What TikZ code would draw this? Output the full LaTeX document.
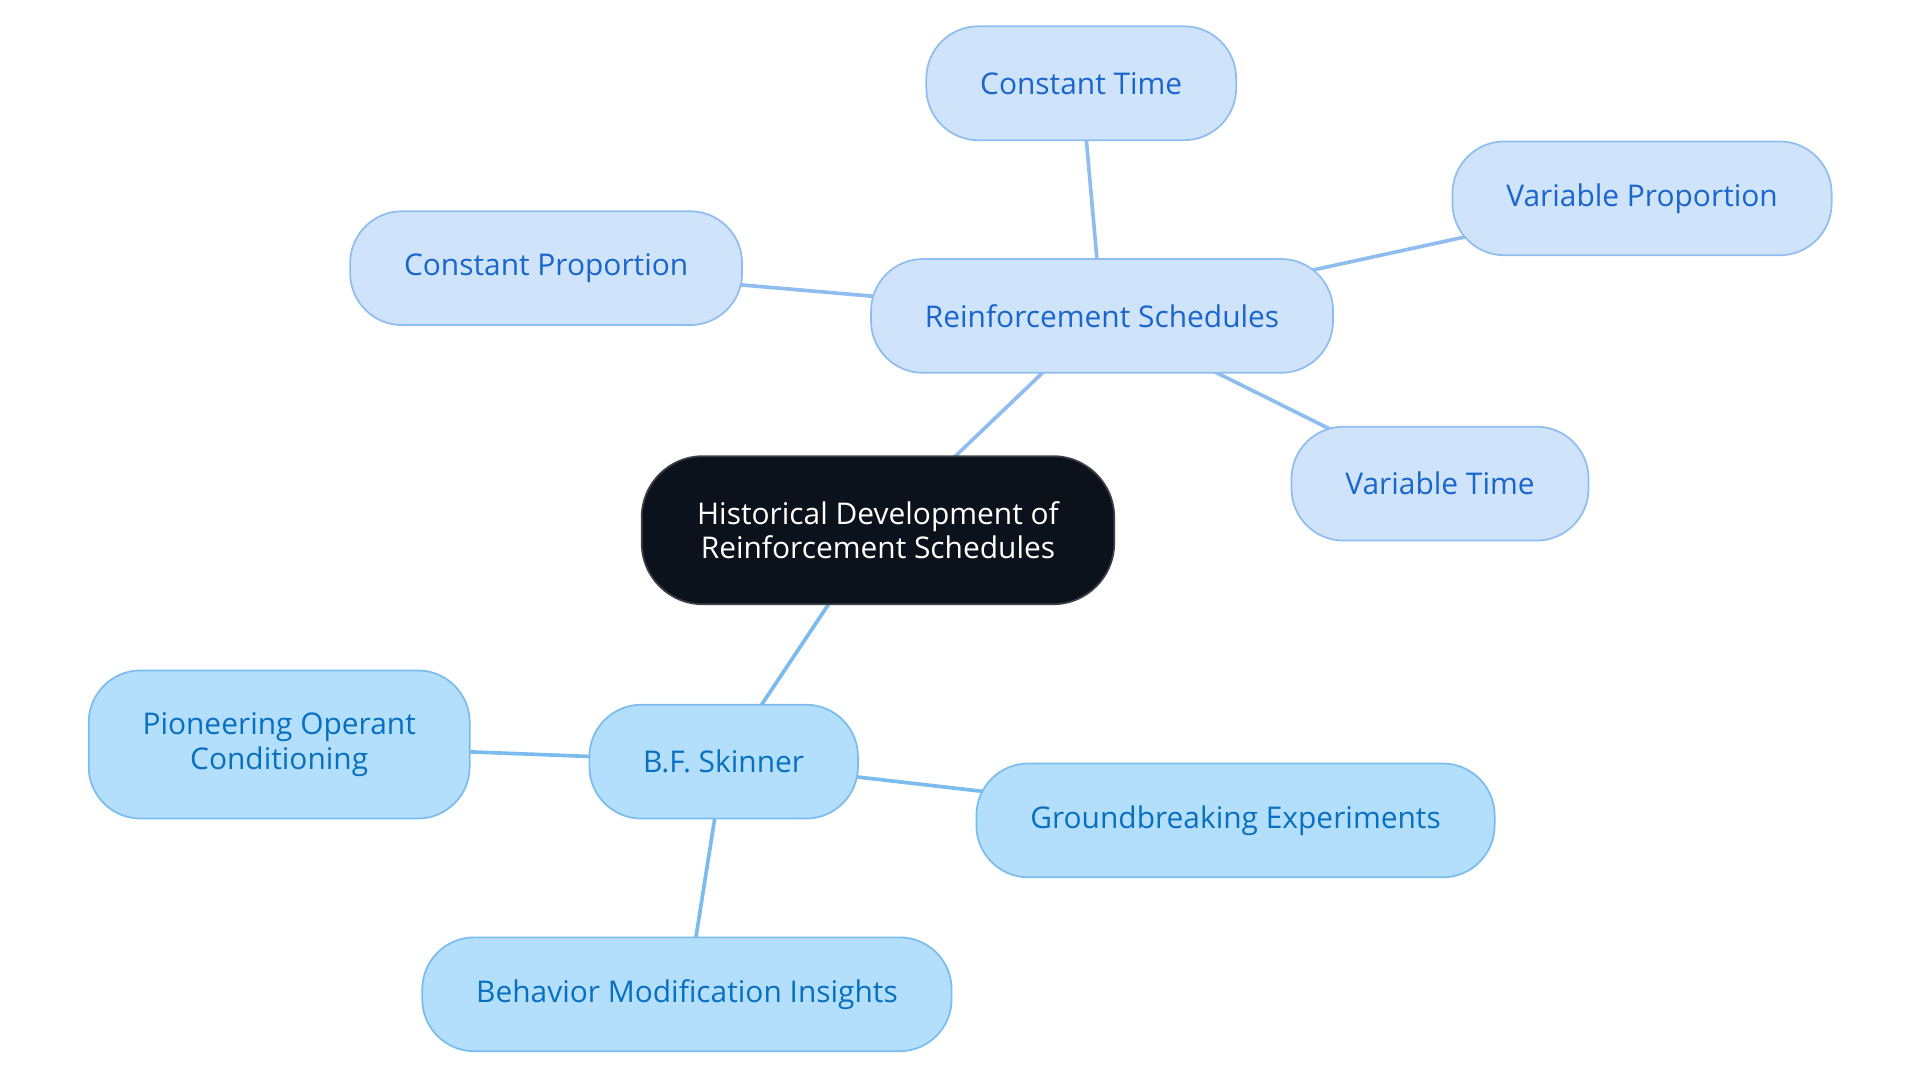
\documentclass[tikz,border=0pt]{standalone}
\usepackage{fontspec}
\setmainfont{Open Sans}
\usetikzlibrary{positioning,backgrounds}
\definecolor{histfill}{HTML}{0C121C}
\definecolor{histdraw}{HTML}{3C4047}
\definecolor{rsfill}{HTML}{CFE3FB}
\definecolor{rsdraw}{HTML}{90BDF0}
\definecolor{rstext}{HTML}{1A66CC}
\definecolor{bffill}{HTML}{B3DFFD}
\definecolor{bfdraw}{HTML}{7BBCEE}
\definecolor{bftext}{HTML}{0870C0}

\begin{document}
\begin{tikzpicture}[x=0.02cm,y=-0.02cm,
    every node/.style={font=\fontsize{13.9}{16.2}\selectfont,align=center},
    hist/.style={rectangle,rounded corners=1cm,fill=histfill,draw=histdraw,
      line width=0.8pt,text=white,minimum width=7.72cm,minimum height=2.42cm},
    rsnode/.style={rectangle,rounded corners=0.85cm,fill=rsfill,draw=rsdraw,
      line width=0.8pt,text=rstext,inner xsep=0.88cm,minimum height=1.86cm},
    bfnode/.style={rectangle,rounded corners=0.85cm,fill=bffill,draw=bfdraw,
      line width=0.8pt,text=bftext,inner xsep=0.88cm,minimum height=1.86cm},
    rsline/.style={draw=rsdraw,line width=1.7pt},
    bfline/.style={draw=bfdraw,line width=1.7pt}]
    \useasboundingbox (0,0) rectangle (1568,884.4);
    \node[hist] (H) at (717,433) {Historical Development of\\Reinforcement Schedules};
    \node[rsnode] (RS) at (900,258) {Reinforcement Schedules};
    \node[rsnode] (CT) at (883,68) {Constant Time};
    \node[rsnode] (VP) at (1341,162) {Variable Proportion};
    \node[rsnode] (CP) at (446,219) {Constant Proportion};
    \node[rsnode] (VT) at (1176,395) {Variable Time};
    \node[bfnode] (BF) at (591,622) {B.F. Skinner};
    \node[bfnode,minimum height=2.42cm] (PO) at (228,608) {Pioneering Operant\\Conditioning};
    \node[bfnode] (GE) at (1009,670) {Groundbreaking Experiments};
    \node[bfnode] (BM) at (561,812) {Behavior Modification Insights};
    \begin{scope}[on background layer]
    \path[rsline] (H.center) -- (RS.center)
    (RS.center) -- (CT.center)
    (RS.center) -- (VP.center)
    (RS.center) -- (CP.center)
    (RS.center) -- (VT.center);
    \path[bfline] (H.center) -- (BF.center)
    (BF.center) -- (PO.center)
    (BF.center) -- (GE.center)
    (BF.center) -- (BM.center);
    \end{scope}
\end{tikzpicture}
\end{document}
